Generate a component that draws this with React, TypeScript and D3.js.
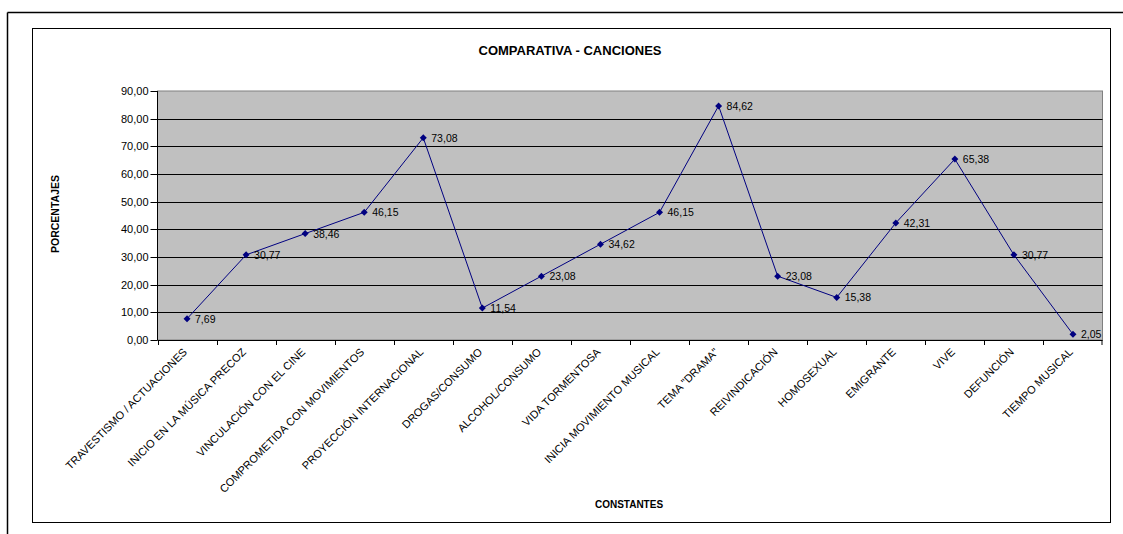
import React from "react";
import * as d3 from "d3";

const categories = [
  "TRAVESTISMO / ACTUACIONES",
  "INICIO EN LA MÚSICA PRECOZ",
  "VINCULACIÓN CON EL CINE",
  "COMPROMETIDA CON MOVIMIENTOS",
  "PROYECCIÓN INTERNACIONAL",
  "DROGAS/CONSUMO",
  "ALCOHOL/CONSUMO",
  "VIDA TORMENTOSA",
  "INICIA MOVIMIENTO MUSICAL",
  "TEMA \"DRAMA\"",
  "REIVINDICACIÓN",
  "HOMOSEXUAL",
  "EMIGRANTE",
  "VIVE",
  "DEFUNCIÓN",
  "TIEMPO MUSICAL",
];
const values = [7.69, 30.77, 38.46, 46.15, 73.08, 11.54, 23.08, 34.62, 46.15, 84.62, 23.08, 15.38, 42.31, 65.38, 30.77, 2.05];
const yTicks = [0, 10, 20, 30, 40, 50, 60, 70, 80, 90];

const fmt = (v: number) => v.toFixed(2).replace(".", ",");

export default function App() {
  const W = 1123, H = 534;
  const left = 157.5, right = 1102.5, top = 91, bottom = 340;
  const x = d3.scaleBand<string>().domain(categories).range([left, right]).padding(0);
  const y = d3.scaleLinear().domain([0, 90]).range([bottom, top]);
  const cx = (c: string) => (x(c) as number) + x.bandwidth() / 2;
  const line = d3.line<number>().x((_, i) => cx(categories[i])).y((v) => y(v));
  const font = "Liberation Sans, Arial, sans-serif";

  return (
    <svg width={W} height={H} style={{ position: "absolute", left: 0, top: 0, background: "#fff" }} fontFamily={font}>
      {/* outer frame */}
      <line x1={7.5} y1={12.5} x2={W} y2={12.5} stroke="#000" strokeWidth={1.5} />
      <line x1={7.5} y1={12.5} x2={7.5} y2={H} stroke="#000" strokeWidth={1.5} />
      {/* chart frame */}
      <rect x={32.5} y={28.5} width={1078} height={494} fill="#fff" stroke="#000" strokeWidth={1} />
      {/* title */}
      <text x={570} y={55} textAnchor="middle" fontSize={13} fontWeight="bold">COMPARATIVA - CANCIONES</text>
      {/* plot area */}
      <rect x={left} y={top} width={right - left} height={bottom - top} fill="#C0C0C0" stroke="#808080" strokeWidth={1} />
      {yTicks.filter((t) => t > 0 && t < 90).map((t) => (
        <line key={t} x1={left} x2={right} y1={Math.round(y(t)) + 0.5} y2={Math.round(y(t)) + 0.5} stroke="#000" strokeWidth={1} />
      ))}
      {/* y axis */}
      <line x1={left} x2={left} y1={top} y2={bottom} stroke="#000" strokeWidth={1} />
      {yTicks.map((t) => (
        <g key={t}>
          <line x1={left - 7} x2={left} y1={Math.round(y(t)) + 0.5} y2={Math.round(y(t)) + 0.5} stroke="#000" />
          <text x={left - 9} y={y(t) + 4} textAnchor="end" fontSize={11}>{fmt(t)}</text>
        </g>
      ))}
      {/* x axis */}
      <line x1={left} x2={right} y1={bottom + 0.5} y2={bottom + 0.5} stroke="#000" strokeWidth={1} />
      {categories.map((c, i) => (
        <line key={"t" + i} x1={Math.round((x(c) as number)) + 0.5} x2={Math.round((x(c) as number)) + 0.5} y1={bottom} y2={bottom + 5} stroke="#000" />
      ))}
      <line x1={right - 0.5} x2={right - 0.5} y1={bottom} y2={bottom + 5} stroke="#000" />
      {categories.map((c) => (
        <text key={"l" + c} transform={`translate(${cx(c) - 2},${bottom + 10}) rotate(-45)`} textAnchor="end" fontSize={11} dy="0.35em">{c}</text>
      ))}
      {/* series */}
      <path d={line(values) as string} fill="none" stroke="#000080" strokeWidth={1} />
      {values.map((v, i) => {
        const px = cx(categories[i]), py = y(v);
        return (
          <g key={"p" + i}>
            <path d={`M${px},${py - 3.5}L${px + 3.5},${py}L${px},${py + 3.5}L${px - 3.5},${py}Z`} fill="#000080" />
            <text x={px + 8} y={py + 4} fontSize={10.5}>{fmt(v)}</text>
          </g>
        );
      })}
      {/* axis titles */}
      <text transform={`translate(59,214) rotate(-90)`} textAnchor="middle" fontSize={10.5} fontWeight="bold">PORCENTAJES</text>
      <text x={629} y={508} textAnchor="middle" fontSize={10} fontWeight="bold">CONSTANTES</text>
    </svg>
  );
}
